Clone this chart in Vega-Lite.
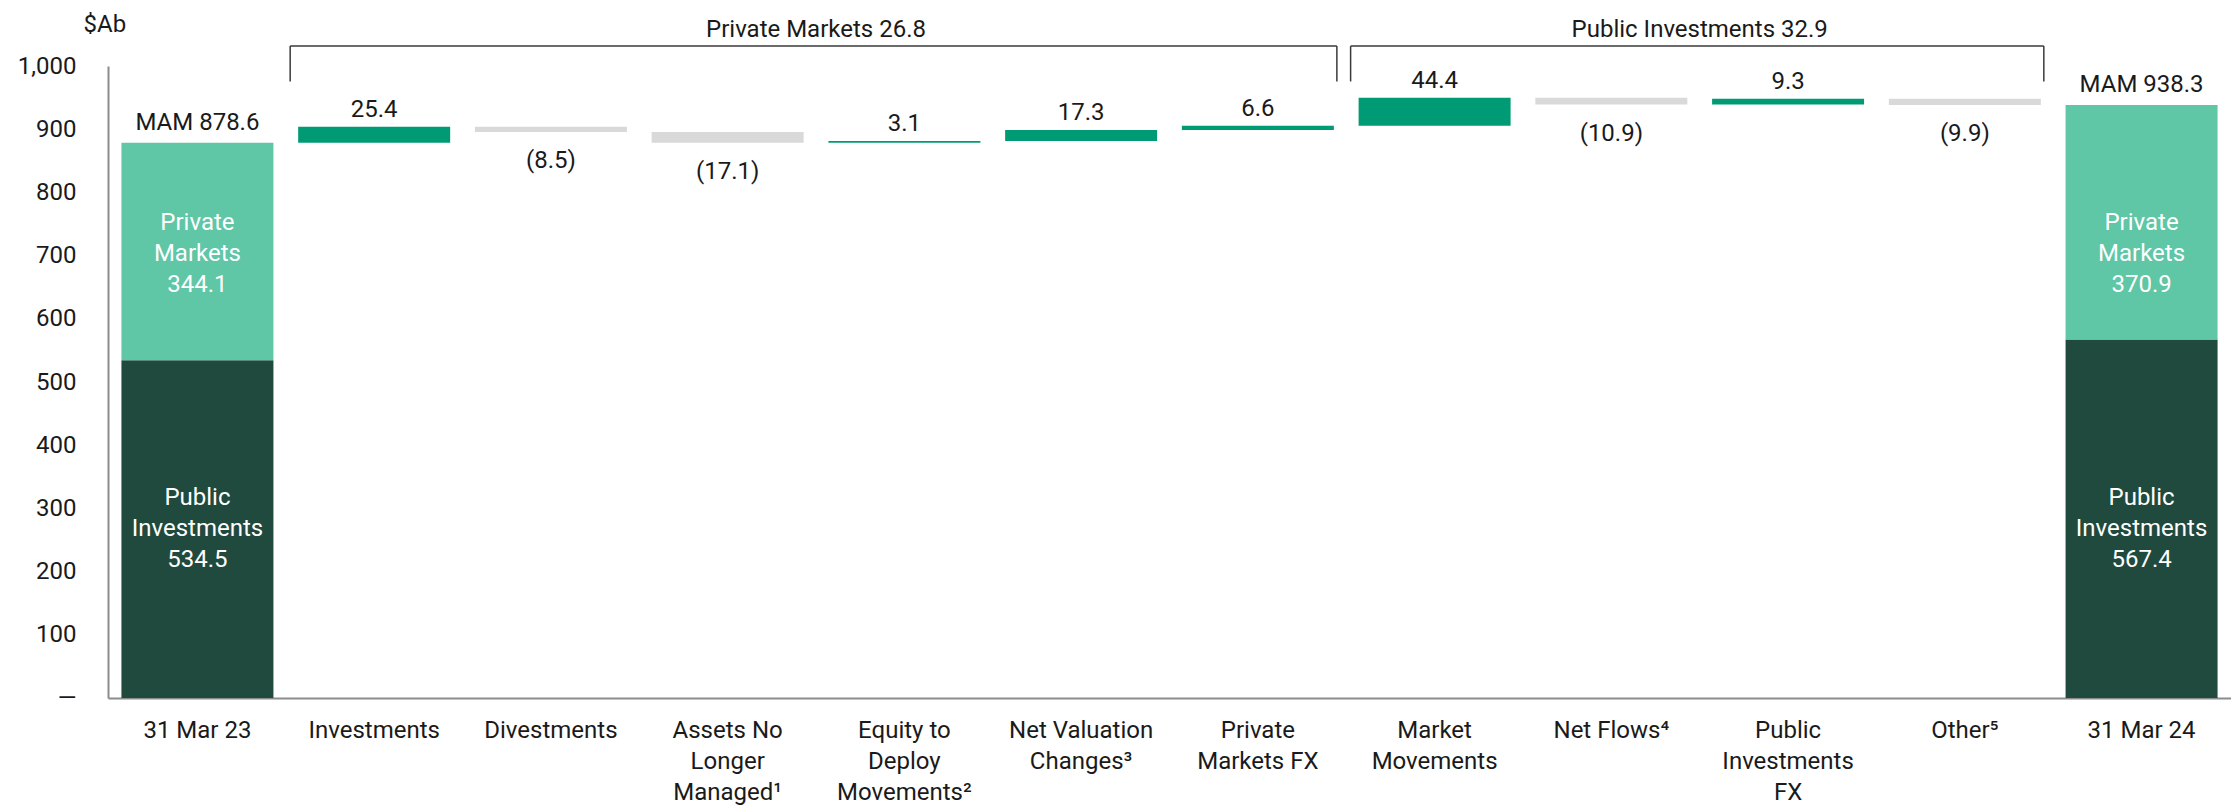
{
  "$schema": "https://vega.github.io/schema/vega-lite/v6.json",
  "width": 2123,
  "height": 632,
  "autosize": {"type": "none"},
  "padding": {"left": 108, "top": 66, "right": 0, "bottom": 109},
  "config": {
    "font": "Roboto",
    "view": {"stroke": null},
    "text": {"fontSize": 24, "color": "#1a1a1a"}
  },
  "datasets": {
    "bars": [
      {"cat": "31 Mar 23", "kind": "pub", "start": 0, "end": 534.5, "text": "", "seg": "Public|Investments|534.5"},
      {"cat": "31 Mar 23", "kind": "priv", "start": 534.5, "end": 878.6, "text": "MAM 878.6", "seg": "Private|Markets|344.1"},
      {"cat": "Investments", "kind": "inc", "start": 878.6, "end": 904.0, "text": "25.4", "seg": ""},
      {"cat": "Divestments", "kind": "dec", "start": 904.0, "end": 895.5, "text": "(8.5)", "seg": ""},
      {"cat": "Assets No|Longer|Managed¹", "kind": "dec", "start": 895.5, "end": 878.4, "text": "(17.1)", "seg": ""},
      {"cat": "Equity to|Deploy|Movements²", "kind": "inc", "start": 878.4, "end": 881.5, "text": "3.1", "seg": ""},
      {"cat": "Net Valuation|Changes³", "kind": "inc", "start": 881.5, "end": 898.8, "text": "17.3", "seg": ""},
      {"cat": "Private|Markets FX", "kind": "inc", "start": 898.8, "end": 905.4, "text": "6.6", "seg": ""},
      {"cat": "Market|Movements", "kind": "inc", "start": 905.4, "end": 949.8, "text": "44.4", "seg": ""},
      {"cat": "Net Flows⁴", "kind": "dec", "start": 949.8, "end": 938.9, "text": "(10.9)", "seg": ""},
      {"cat": "Public|Investments|FX", "kind": "inc", "start": 938.9, "end": 948.2, "text": "9.3", "seg": ""},
      {"cat": "Other⁵", "kind": "dec", "start": 948.2, "end": 938.3, "text": "(9.9)", "seg": ""},
      {"cat": "31 Mar 24", "kind": "pub", "start": 0, "end": 567.4, "text": "", "seg": "Public|Investments|567.4"},
      {"cat": "31 Mar 24", "kind": "priv", "start": 567.4, "end": 938.3, "text": "MAM 938.3", "seg": "Private|Markets|370.9"}
    ],
    "brackets": [
      {"from": "Investments", "to": "Private|Markets FX", "titleAt": "Equity to|Deploy|Movements²", "title": "Private Markets 26.8"},
      {"from": "Market|Movements", "to": "Other⁵", "titleAt": "Public|Investments|FX", "title": "Public Investments 32.9"}
    ]
  },
  "encoding": {
    "x": {
      "field": "cat",
      "type": "nominal",
      "scale": {
        "domain": ["31 Mar 23", "Investments", "Divestments", "Assets No|Longer|Managed¹", "Equity to|Deploy|Movements²", "Net Valuation|Changes³", "Private|Markets FX", "Market|Movements", "Net Flows⁴", "Public|Investments|FX", "Other⁵", "31 Mar 24"],
        "paddingInner": 0.14,
        "paddingOuter": 0.076
      },
      "axis": {
        "title": null,
        "labelAngle": 0,
        "labelExpr": "split(datum.label, '|')",
        "labelFontSize": 24,
        "labelLineHeight": 31,
        "labelColor": "#1a1a1a",
        "labelPadding": 20,
        "labelLimit": 400,
        "labelOverlap": false,
        "labelBound": false,
        "ticks": false,
        "tickSize": 0,
        "domainColor": "#8c8c8c",
        "domainWidth": 2,
        "grid": false
      }
    }
  },
  "layer": [
    {
      "data": {"name": "bars"},
      "mark": {"type": "bar"},
      "encoding": {
        "y": {
          "field": "start",
          "type": "quantitative",
          "scale": {"domain": [0, 1000], "nice": false, "zero": true},
          "axis": {
            "values": [0, 100, 200, 300, 400, 500, 600, 700, 800, 900, 1000],
            "labelExpr": "datum.value == 0 ? '—' : format(datum.value, ',')",
            "labelFontSize": 24,
            "labelColor": "#1a1a1a",
            "labelPadding": 32,
            "ticks": false,
            "tickSize": 0,
            "grid": false,
            "domainColor": "#8c8c8c",
            "domainWidth": 2,
            "title": "$Ab",
            "titleAngle": 0,
            "titleAlign": "left",
            "titleBaseline": "alphabetic",
            "titleX": -25,
            "titleY": -35,
            "titleFontSize": 24,
            "titleFontWeight": "normal",
            "titleColor": "#1a1a1a"
          }
        },
        "y2": {"field": "end"},
        "color": {
          "field": "kind",
          "type": "nominal",
          "scale": {"domain": ["pub", "priv", "inc", "dec"], "range": ["#1f4a3d", "#5fc6a6", "#009b74", "#d9d9d9"]},
          "legend": null
        }
      }
    },
    {
      "data": {"name": "bars"},
      "transform": [{"filter": "datum.kind == 'inc'"}],
      "mark": {"type": "text", "baseline": "alphabetic", "dy": -10},
      "encoding": {
        "y": {"field": "end", "type": "quantitative"},
        "text": {"field": "text"}
      }
    },
    {
      "data": {"name": "bars"},
      "transform": [{"filter": "datum.kind == 'dec'"}],
      "mark": {"type": "text", "baseline": "top", "dy": 17},
      "encoding": {
        "y": {"field": "end", "type": "quantitative"},
        "text": {"field": "text"}
      }
    },
    {
      "data": {"name": "bars"},
      "transform": [{"filter": "datum.kind == 'priv'"}],
      "mark": {"type": "text", "baseline": "alphabetic", "dy": -13},
      "encoding": {
        "y": {"field": "end", "type": "quantitative"},
        "text": {"field": "text"}
      }
    },
    {
      "data": {"name": "bars"},
      "transform": [{"filter": "datum.kind == 'priv'"}],
      "mark": {"type": "text", "baseline": "middle", "lineBreak": "|", "lineHeight": 31, "color": "#ffffff"},
      "encoding": {
        "y": {"datum": 752, "type": "quantitative"},
        "text": {"field": "seg"}
      }
    },
    {
      "data": {"name": "bars"},
      "transform": [{"filter": "datum.kind == 'pub'"}],
      "mark": {"type": "text", "baseline": "middle", "lineBreak": "|", "lineHeight": 31, "color": "#ffffff"},
      "encoding": {
        "y": {"datum": 316, "type": "quantitative"},
        "text": {"field": "seg"}
      }
    },
    {
      "data": {"name": "brackets"},
      "mark": {"type": "rule", "color": "#3a3a3a", "strokeWidth": 1.5, "xOffset": -8, "x2Offset": 3},
      "encoding": {
        "x": {"field": "from", "type": "nominal", "bandPosition": 0},
        "x2": {"field": "to", "bandPosition": 1},
        "y": {"datum": 1031.5, "type": "quantitative"}
      }
    },
    {
      "data": {"name": "brackets"},
      "mark": {"type": "rule", "color": "#3a3a3a", "strokeWidth": 1.5, "xOffset": -8},
      "encoding": {
        "x": {"field": "from", "type": "nominal", "bandPosition": 0},
        "y": {"datum": 1031.5, "type": "quantitative"},
        "y2": {"datum": 975.5}
      }
    },
    {
      "data": {"name": "brackets"},
      "mark": {"type": "rule", "color": "#3a3a3a", "strokeWidth": 1.5, "xOffset": 3},
      "encoding": {
        "x": {"field": "to", "type": "nominal", "bandPosition": 1},
        "y": {"datum": 1031.5, "type": "quantitative"},
        "y2": {"datum": 975.5}
      }
    },
    {
      "data": {"name": "brackets"},
      "mark": {"type": "text", "baseline": "alphabetic", "align": "center", "xOffset": -12.4},
      "encoding": {
        "x": {"field": "titleAt", "type": "nominal", "bandPosition": 0},
        "y": {"datum": 1046, "type": "quantitative"},
        "text": {"field": "title"}
      }
    }
  ]
}
